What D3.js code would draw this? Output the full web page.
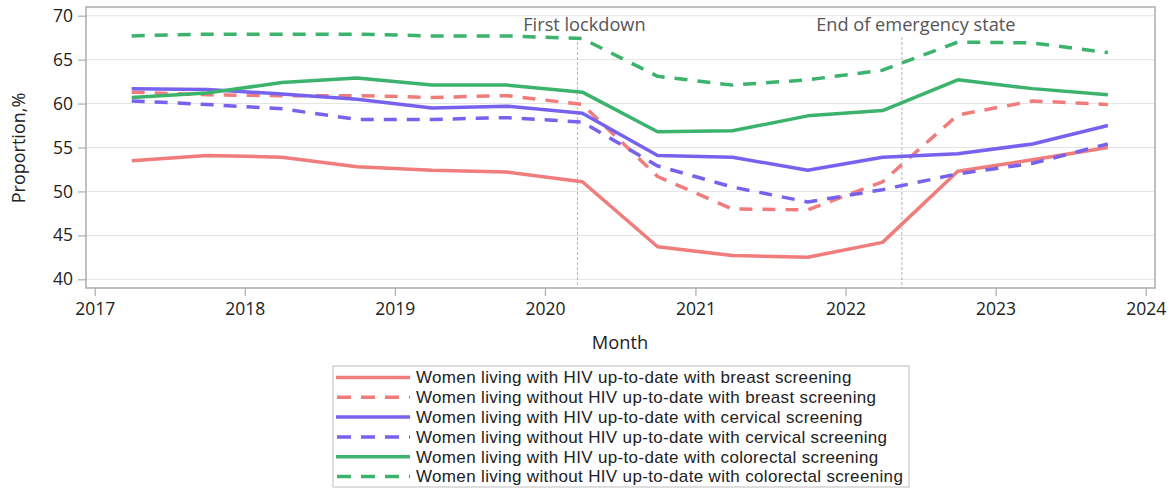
<!DOCTYPE html>
<html>
<head>
<meta charset="utf-8">
<script src="https://cdn.jsdelivr.net/npm/d3@7"></script>
<style>
  body { margin: 0; background: #fff; }
  svg { font-family: "Open Sans", "Noto Sans", sans-serif; }
</style>
</head>
<body>
<div id="chart"></div>
<script>
// survey months (April and October each year)
const months = ["2017-04", "2017-10", "2018-04", "2018-10", "2019-04", "2019-10", "2020-04",
    "2020-10", "2021-04", "2021-10", "2022-04", "2022-10", "2023-04", "2023-10"]

const breastHiv    = [53.5, 54.1, 53.9, 52.8, 52.4, 52.2, 51.1, 43.7, 42.7, 42.5, 44.2, 52.3, 53.6, 55.0]
const breastNoHiv  = [61.3, 61.0, 60.9, 60.9, 60.7, 60.9, 59.9, 51.7, 48.0, 47.9, 51.1, 58.7, 60.3, 59.9]
const cervHiv      = [61.7, 61.6, 61.1, 60.5, 59.5, 59.7, 58.9, 54.1, 53.9, 52.4, 53.9, 54.3, 55.4, 57.5]
const cervNoHiv    = [60.3, 59.9, 59.4, 58.2, 58.2, 58.4, 57.9, 52.9, 50.5, 48.8, 50.2, 52.0, 53.2, 55.4]
const colorHiv     = [60.7, 61.2, 62.4, 62.9, 62.1, 62.1, 61.3, 56.8, 56.9, 58.6, 59.2, 62.7, 61.7, 61.0]
const colorNoHiv   = [67.7, 67.9, 67.9, 67.9, 67.7, 67.7, 67.4, 63.1, 62.1, 62.7, 63.8, 67.0, 66.9, 65.8]

const seriesNames = [
    "Women living with HIV up-to-date with breast screening",
    "Women living without HIV up-to-date with breast screening",
    "Women living with HIV up-to-date with cervical screening",
    "Women living without HIV up-to-date with cervical screening",
    "Women living with HIV up-to-date with colorectal screening",
    "Women living without HIV up-to-date with colorectal screening"
]

const eventDates = ["2020-03-20", "2022-05-18"]
const eventLabels = ["First lockdown", "End of emergency state"]

const yTicks = [40, 45, 50, 55, 60, 65, 70]
const xTickYears = [2017, 2018, 2019, 2020, 2021, 2022, 2023, 2024]

const red = "#f07c7c", blue = "#7662ef", green = "#3bb36c"
const series = [
    { name: seriesNames[0], values: breastHiv, color: red, dashed: false },
    { name: seriesNames[1], values: breastNoHiv, color: red, dashed: true },
    { name: seriesNames[2], values: cervHiv, color: blue, dashed: false },
    { name: seriesNames[3], values: cervNoHiv, color: blue, dashed: true },
    { name: seriesNames[4], values: colorHiv, color: green, dashed: false },
    { name: seriesNames[5], values: colorNoHiv, color: green, dashed: true }
]

const width = 1171, height = 489
const frame = { left: 86, right: 1155, top: 7, bottom: 288 }

const parseMonth = d3.timeParse("%Y-%m")
const parseDay = d3.timeParse("%Y-%m-%d")
const dates = months.map(parseMonth)

const svg = d3.select("#chart").append("svg")
    .attr("width", width)
    .attr("height", height)

const x = d3.scaleTime()
    .domain([new Date(2017, 0, 1), new Date(2024, 0, 1)])
    .range([94.7, 1145.7])

const y = d3.scaleLinear()
    .domain([40, 70])
    .range([279.3, 15.7])

// gridlines
svg.append("g")
    .selectAll("line")
    .data(yTicks)
    .enter().append("line")
    .attr("x1", frame.left).attr("x2", frame.right)
    .attr("y1", d => y(d)).attr("y2", d => y(d))
    .attr("stroke", "#e4e4e4")
    .attr("stroke-width", 1)

// event markers (label nudges so the text sits where SAS put it)
const labelShift = [7, 14]
const events = eventDates.map((d, i) => ({ date: parseDay(d), label: eventLabels[i], shift: labelShift[i] }))

const ev = svg.append("g")
ev.selectAll("line")
    .data(events)
    .enter().append("line")
    .attr("x1", d => x(d.date)).attr("x2", d => x(d.date))
    .attr("y1", 37).attr("y2", frame.bottom)
    .attr("stroke", "#b5b5b5")
    .attr("stroke-width", 1)
    .attr("stroke-dasharray", "3,2")
ev.selectAll("text")
    .data(events)
    .enter().append("text")
    .attr("x", d => x(d.date) + d.shift)
    .attr("y", 31)
    .attr("text-anchor", "middle")
    .attr("fill", "#555")
    .attr("font-size", 18.2)
    .text(d => d.label)

// lines
const line = d3.line()
    .x((d, i) => x(dates[i]))
    .y(d => y(d))

svg.append("g")
    .selectAll("path")
    .data(series)
    .enter().append("path")
    .attr("d", d => line(d.values))
    .attr("fill", "none")
    .attr("stroke", d => d.color)
    .attr("stroke-width", 3.5)
    .attr("stroke-linejoin", "round")
    .attr("stroke-dasharray", d => d.dashed ? "13,10" : null)

// frame
svg.append("rect")
    .attr("x", frame.left).attr("y", frame.top)
    .attr("width", frame.right - frame.left)
    .attr("height", frame.bottom - frame.top)
    .attr("fill", "none")
    .attr("stroke", "#a9adb0")
    .attr("stroke-width", 1.5)

// axes
const yAxis = svg.append("g")
    .attr("transform", `translate(${frame.left},0)`)
    .call(d3.axisLeft(y).tickValues(yTicks).tickSize(8).tickPadding(5))
yAxis.select(".domain").remove()

const xAxis = svg.append("g")
    .attr("transform", `translate(0,${frame.bottom})`)
    .call(d3.axisBottom(x)
        .tickValues(xTickYears.map(yr => new Date(yr, 0, 1)))
        .tickFormat(d3.timeFormat("%Y"))
        .tickSize(8).tickPadding(7))
xAxis.select(".domain").remove()

svg.selectAll(".tick line").attr("stroke", "#a9adb0").attr("stroke-width", 1.2)
svg.selectAll(".tick text")
    .attr("fill", "#222")
    .attr("font-size", 17.5)
    .attr("font-family", "Open Sans, sans-serif")

svg.append("text")
    .attr("transform", "translate(25,148) rotate(-90)")
    .attr("text-anchor", "middle")
    .attr("font-size", 18)
    .attr("fill", "#222")
    .text("Proportion,%")

svg.append("text")
    .attr("x", 620).attr("y", 349)
    .attr("text-anchor", "middle")
    .attr("font-size", 18.3)
    .attr("fill", "#222")
    .text("Month")

// legend
const legend = svg.append("g")
legend.append("rect")
    .attr("x", 333).attr("y", 366)
    .attr("width", 576).attr("height", 121)
    .attr("fill", "#fff")
    .attr("stroke", "#c8c8c8")
    .attr("stroke-width", 1.2)

const rows = legend.selectAll(".row")
    .data(series)
    .enter().append("g")
    .attr("class", "row")
    .attr("transform", (d, i) => `translate(0,${377.5 + i * 19.8})`)

rows.append("line")
    .attr("x1", d => d.dashed ? 337 : 336)
    .attr("x2", 410)
    .attr("stroke", d => d.color)
    .attr("stroke-width", 3.5)
    .attr("stroke-dasharray", d => d.dashed ? "14,10" : null)

let legendTexts = rows.append("text")
    .attr("x", 416)
    .attr("dy", "0.35em")
    .attr("font-size", 17)
    .attr("font-family", "Liberation Sans, Arial, sans-serif")
    .attr("fill", "#222")
    .text(d => d.name)

// stretch letter spacing a bit so the longest label ends where the reference's does
let longestNode = legendTexts.nodes().reduce((a, b) => a.getComputedTextLength() > b.getComputedTextLength() ? a : b)
let extra = (487 - longestNode.getComputedTextLength()) / longestNode.textContent.length
legendTexts.attr("letter-spacing", Math.max(0, extra).toFixed(2) + "px")
</script>
</body>
</html>
